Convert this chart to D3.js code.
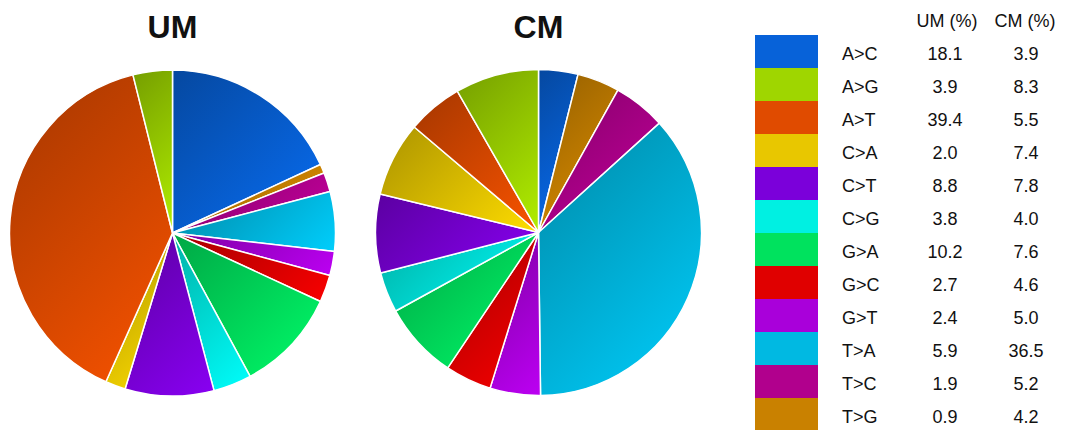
<!DOCTYPE html>
<html>
<head>
<meta charset="utf-8">
<script src="https://cdn.jsdelivr.net/npm/d3@7"></script>
<style>
body { margin: 0; background: #fff; }
svg text { font-family: Arial, "Liberation Sans", sans-serif; fill: #111; }
</style>
</head>
<body>
<div id="chart"></div>
<script>
// mutation classes, in legend order
const categories = ['A>C', 'A>G', 'A>T', 'C>A', 'C>T', 'C>G', 'G>A', 'G>C', 'G>T', 'T>A', 'T>C', 'T>G'];
const umValues = [18.1, 3.9, 39.4, 2.0, 8.8, 3.8, 10.2, 2.7, 2.4, 5.9, 1.9, 0.9];
const cmValues = [3.9, 8.3, 5.5, 7.4, 7.8, 4.0, 7.6, 4.6, 5.0, 36.5, 5.2, 4.2];
const seriesNames = ['UM', 'CM'];
const headers = ['UM (%)', 'CM (%)'];

const colors = ['#0762d9', '#9fd600', '#e04b00', '#e8c700', '#7b00da', '#00f0e2',
  '#00e25e', '#e00000', '#a900da', '#00b9e2', '#b1008d', '#c98100'];

const width = 1065, height = 430;

const svg = d3.select('#chart')
  .append('svg')
  .attr('width', width)
  .attr('height', height);

const defs = svg.append('defs');

const color = d3.scaleOrdinal().domain(categories).range(colors);

// slices go clockwise from 12 o'clock: first class, then the rest in reverse
const drawOrder = [0].concat(d3.range(categories.length - 1, 0, -1));

const pie = d3.pie()
  .sort(null)
  .value(d => d.value);

const radius = 163;
const arc = d3.arc().innerRadius(0).outerRadius(radius);

const pies = [
  {name: seriesNames[0], values: umValues, cx: 172.5, cy: 233},
  {name: seriesNames[1], values: cmValues, cx: 538.5, cy: 232.5}
];

pies.forEach((p, pi) => {
  const rows = drawOrder.map(i => ({key: categories[i], value: p.values[i]}));

  svg.append('text')
    .attr('x', p.cx)
    .attr('y', 38)
    .attr('text-anchor', 'middle')
    .style('font-size', '32px')
    .style('font-weight', 'bold')
    .text(p.name);

  const g = svg.append('g')
    .attr('transform', `translate(${p.cx},${p.cy})`);

  g.selectAll('path.slice')
    .data(pie(rows))
    .enter()
    .append('path')
    .attr('class', 'slice')
    .attr('d', arc)
    .attr('stroke', '#fff')
    .attr('stroke-width', 1.5)
    .attr('stroke-linejoin', 'round')
    .each(function(d, i) {
      // diagonal shading, dark top-left to light bottom-right
      const bb = this.getBBox();
      const dd = (bb.width + bb.height) / 2;
      const id = `grad-${pi}-${i}`;
      const base = d3.color(color(d.data.key));
      const grad = defs.append('linearGradient')
        .attr('id', id)
        .attr('gradientUnits', 'userSpaceOnUse')
        .attr('x1', bb.x).attr('y1', bb.y)
        .attr('x2', bb.x + dd).attr('y2', bb.y + dd);
      grad.append('stop').attr('offset', '0%').attr('stop-color', base.darker(0.85));
      grad.append('stop').attr('offset', '100%').attr('stop-color', base.brighter(0.3));
      d3.select(this).attr('fill', `url(#${id})`);
    });
});

// legend table
const rowH = 33;
const y = d3.scaleBand()
  .domain(categories)
  .range([35, 35 + rowH * categories.length])
  .paddingInner(0);

const legend = svg.append('g').attr('class', 'legend');

legend.selectAll('text.head')
  .data(headers)
  .enter()
  .append('text')
  .attr('class', 'head')
  .attr('x', (d, i) => [947, 1025][i])
  .attr('y', 27)
  .attr('text-anchor', 'middle')
  .style('font-size', '18px')
  .text(d => d);

const row = legend.selectAll('g.row')
  .data(categories)
  .enter()
  .append('g')
  .attr('class', 'row')
  .attr('transform', d => `translate(0,${y(d)})`);

row.append('rect')
  .attr('x', 755)
  .attr('width', 63)
  .attr('height', y.bandwidth())
  .attr('fill', d => color(d));

row.append('text')
  .attr('x', 842)
  .attr('y', rowH / 2 + 8.5)
  .style('font-size', '18px')
  .text(d => d);

row.append('text')
  .attr('x', 945)
  .attr('y', rowH / 2 + 8.5)
  .attr('text-anchor', 'middle')
  .style('font-size', '18px')
  .text((d, i) => umValues[i].toFixed(1));

row.append('text')
  .attr('x', 1026)
  .attr('y', rowH / 2 + 8.5)
  .attr('text-anchor', 'middle')
  .style('font-size', '18px')
  .text((d, i) => cmValues[i].toFixed(1));
</script>
</body>
</html>
